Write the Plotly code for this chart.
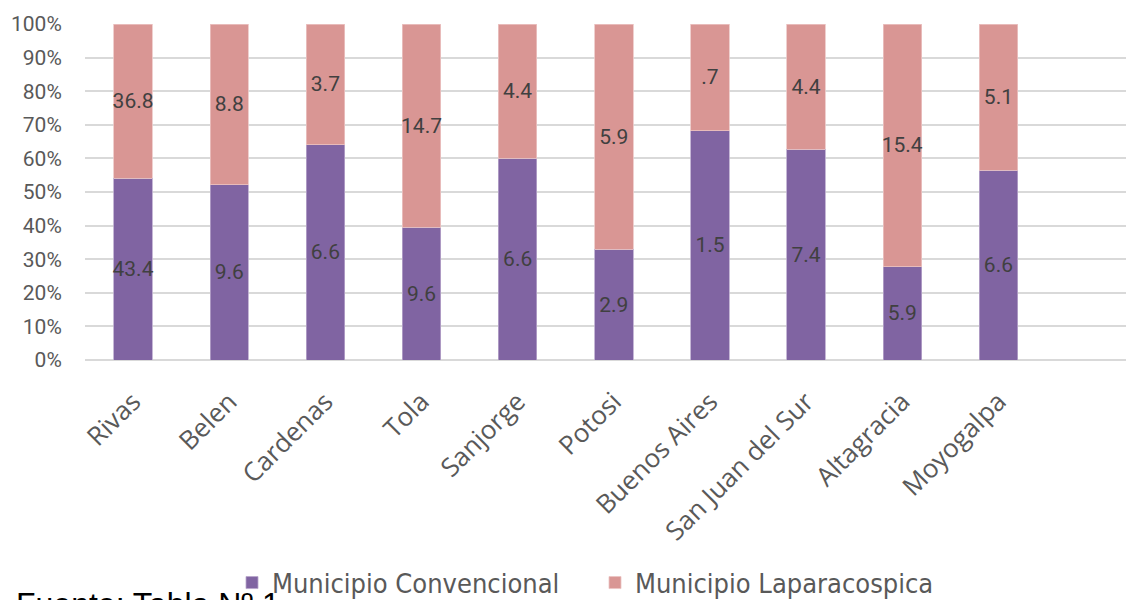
import plotly.graph_objects as go

categories = ["Rivas", "Belen", "Cardenas", "Tola", "Sanjorge", "Potosi",
              "Buenos Aires", "San Juan del Sur", "Altagracia", "Moyogalpa"]
convencional = [43.4, 9.6, 6.6, 9.6, 6.6, 2.9, 1.5, 7.4, 5.9, 6.6]
laparoscopica = [36.8, 8.8, 3.7, 14.7, 4.4, 5.9, 0.7, 4.4, 15.4, 5.1]
conv_labels = ["43.4", "9.6", "6.6", "9.6", "6.6", "2.9", "1.5", "7.4", "5.9", "6.6"]
lap_labels = ["36.8", "8.8", "3.7", "14.7", "4.4", "5.9", ".7", "4.4", "15.4", "5.1"]
y_ticks = [0, 10, 20, 30, 40, 50, 60, 70, 80, 90, 100]
y_tick_labels = ["0%", "10%", "20%", "30%", "40%", "50%", "60%", "70%", "80%", "90%", "100%"]

# page offset (body margin) compensation
OFF = 8
W, H = 1134, 600
L, R = 85 - OFF, OFF
T = 24 - OFF
B = H - (360 - OFF)
pw, ph = W - L - R, H - T - B

def px_x(p):
    return (p - OFF - L) / pw

def px_y(p):
    return (H - B - (p - OFF)) / ph

fig = go.Figure()
fig.add_trace(go.Bar(
    x=categories, y=convencional, name="Municipio Convencional",
    marker=dict(color="#8064A2", line=dict(width=0.8, color="#B8A6CC")),
    text=conv_labels, textposition="inside", insidetextanchor="middle",
    textangle=0, textfont=dict(family="Roboto", size=21, color="#404040"),
    width=0.4,
))
fig.add_trace(go.Bar(
    x=categories, y=laparoscopica, name="Municipio Laparacospica",
    marker=dict(color="#D99694", line=dict(width=0.8, color="#EBC4C3")),
    text=lap_labels, textposition="inside", insidetextanchor="middle",
    textangle=0, textfont=dict(family="Roboto", size=21, color="#404040"),
    width=0.4,
))

fig.update_layout(
    width=W, height=H,
    barmode="stack", barnorm="percent",
    margin=dict(l=L, r=R, t=T, b=B, autoexpand=False),
    paper_bgcolor="white", plot_bgcolor="white",
    uniformtext=dict(mode="show", minsize=21),
    showlegend=True,
    legend=dict(
        orientation="h", x=px_x(232), xanchor="left",
        y=px_y(583), yanchor="middle",
        font=dict(family="DejaVu Sans Condensed, Roboto Condensed, Roboto", size=27, color="#595959"),
        itemwidth=30, traceorder="normal",
        entrywidth=318, entrywidthmode="pixels",
    ),
    xaxis=dict(
        range=[-0.5, 10.41], tickangle=-45, automargin=False,
        tickfont=dict(family="Open Sans", size=26, color="#595959"),
        ticks="outside", ticklen=15, tickcolor="rgba(0,0,0,0)",
        showgrid=False, zeroline=False, showline=False,
    ),
    yaxis=dict(
        range=[0, 100], tickmode="array", tickvals=y_ticks, ticktext=y_tick_labels,
        automargin=False,
        tickfont=dict(family="Roboto", size=21, color="#595959"),
        ticks="outside", ticklen=18, tickcolor="rgba(0,0,0,0)",
        showgrid=True, gridcolor="#D9D9D9", gridwidth=1.5,
        zeroline=True, zerolinecolor="#D9D9D9", zerolinewidth=1.5,
        showline=False,
    ),
    annotations=[dict(
        text="Fuente: Tabla Nº 1", xref="paper", yref="paper",
        x=px_x(14), y=px_y(584), xanchor="left", yanchor="top",
        showarrow=False,
        font=dict(family="Liberation Sans", size=32, color="#000000"),
    )],
)

fig.write_html("out.html")
